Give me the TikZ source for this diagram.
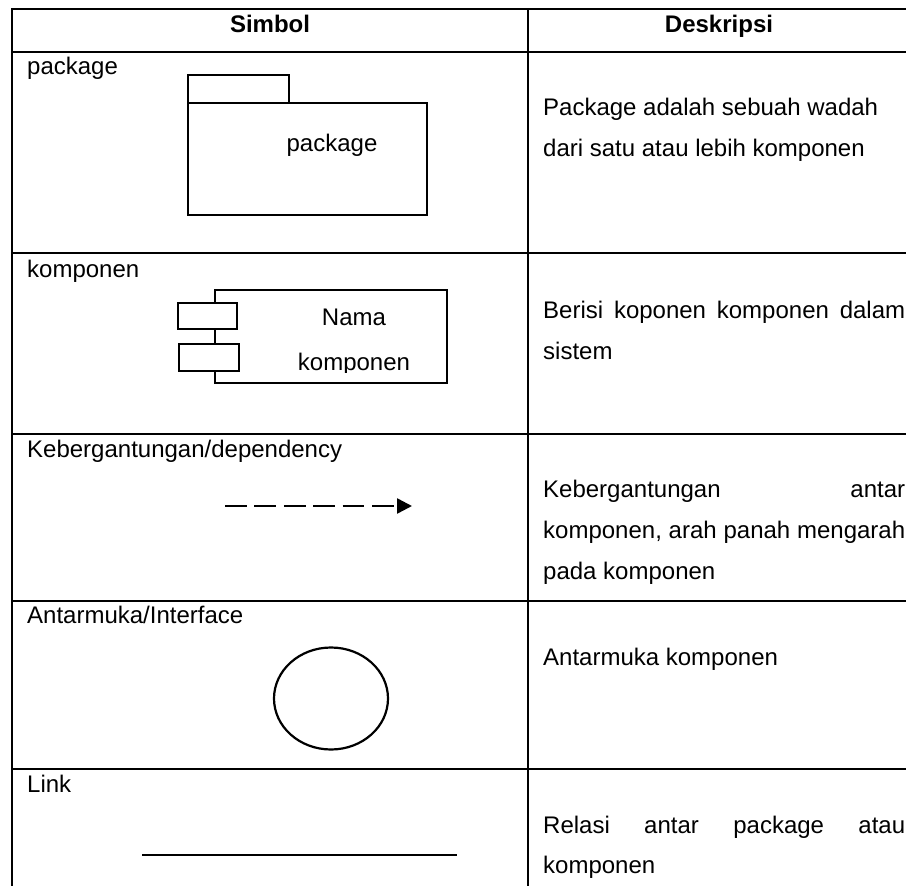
\documentclass[tikz,border=0pt]{standalone}
\usepackage{fontspec}
\setmainfont{Liberation Sans}
\usetikzlibrary{arrows.meta}

\begin{document}
\begin{tikzpicture}[x=1pt, y=-1pt,
  rule/.style={line width=2.8pt},
  symline/.style={line width=2.5pt},
  txt/.style={inner sep=0pt, font=\fontsize{24}{24}\selectfont},
  lbl/.style={txt, anchor=base west},
  mid/.style={txt, anchor=base},
  hdr/.style={inner sep=0pt, anchor=base, font=\fontsize{24}{24}\selectfont\bfseries},
]
\useasboundingbox (0,0) rectangle (906,886);

% table grid
\draw[rule] (12,886) -- (12,9) -- (906,9);
\draw[rule] (528,9) -- (528,886);
\foreach \yy in {52,253,434,601,769}
  \draw[rule] (12,\yy) -- (906,\yy);

% header
\node[hdr] (hsym) at (270,32) {Simbol};
\node[hdr] (hdesc) at (719,32) {Deskripsi};

% left column labels
\node[lbl] (lpkg) at (27,74) {package};
\node[lbl] (lkomp) at (27,277) {komponen};
\node[lbl] (ldep) at (27,457) {Kebergantungan/dependency};
\node[lbl] (lint) at (27,623) {Antarmuka/Interface};
\node[lbl] (llink) at (27,792) {Link};

% package symbol
\draw[symline] (188,75) rectangle (289,103);
\draw[symline] (188,103) rectangle (427,215);
\node[mid] (pkgtxt) at (332,151) {package};

% component symbol
\draw[symline] (215,290) rectangle (447,383);
\draw[symline, fill=white] (178,303) rectangle (237,329);
\draw[symline, fill=white] (179,344) rectangle (239,371);
\node[mid] (nama) at (354,325) {Nama};
\begin{scope}
  \clip (215,290) rectangle (447,372);
  \node[mid] (kompname) at (354,370) {komponen};
\end{scope}

% dependency arrow
\coordinate (depA) at (225,506);
\coordinate (depB) at (412,506);
\draw[line width=2.5pt, dash pattern=on 21.7pt off 7.7pt,
      -{Triangle[length=15pt,width=15pt]}] (depA) -- (depB);

% interface
\draw[line width=2.2pt] (331,698.5) ellipse [x radius=57, y radius=51];

% link
\coordinate (linkA) at (142,855);
\coordinate (linkB) at (457,855);
\draw[line width=2pt] (linkA) -- (linkB);

% descriptions
\node[lbl] (d1a) at (543,115) {Package adalah sebuah wadah};
\node[lbl] (d1b) at (543,156) {dari satu atau lebih komponen};
\node[lbl] (d2a) at (543,318) {\makebox[362pt][s]{Berisi koponen komponen dalam}};
\node[lbl] (d2b) at (543,359) {sistem};
\node[lbl] (d3a) at (543,497) {\makebox[362pt][s]{Kebergantungan antar}};
\node[lbl] (d3b) at (543,538) {\makebox[362pt][s]{komponen, arah panah mengarah}};
\node[lbl] (d3c) at (543,579) {pada komponen};
\node[lbl] (d4a) at (543,665) {Antarmuka komponen};
\node[lbl] (d5a) at (543,833) {\makebox[362pt][s]{Relasi antar package atau}};
\node[lbl] (d5b) at (543,873) {komponen};
\end{tikzpicture}
\end{document}
